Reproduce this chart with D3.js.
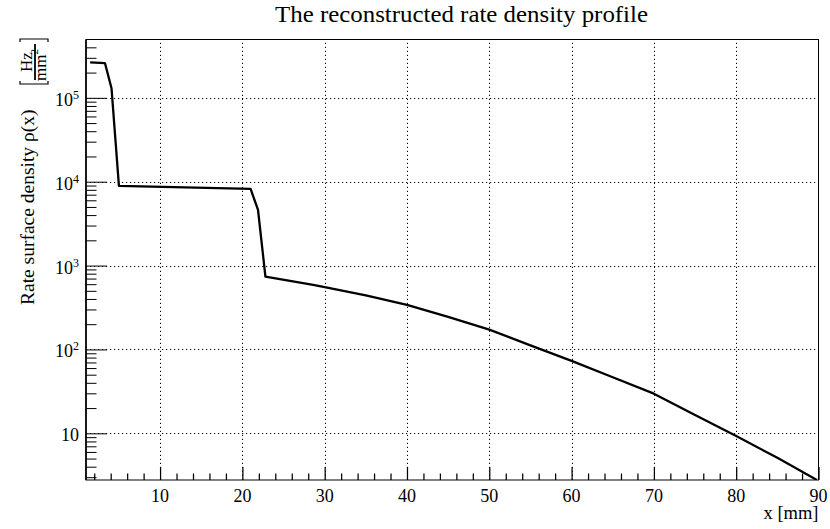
<!DOCTYPE html>
<html>
<head>
<meta charset="utf-8">
<script src="https://cdn.jsdelivr.net/npm/d3@7"></script>
<style>
  body { margin: 0; background: #fff; }
  svg { display: block; }
  text { font-family: "Liberation Serif", "Times New Roman", serif; fill: #000; }
</style>
</head>
<body>
<svg id="chart" width="830" height="529"></svg>
<script>
// Reconstructed rate surface density along x
const xPositions  = [1.5, 3.3, 4.1, 5.0, 21.0, 21.9, 22.8, 28.6, 30, 35, 40, 45, 50, 55, 60, 65, 70, 75, 80, 85, 89.8];
const rateDensity = [2.65e5, 2.6e5, 1.3e5, 8.9e3, 8.2e3, 4.6e3, 740, 590, 553, 440, 340, 245, 172, 112, 73, 46.6, 29.7, 16.5, 9.3, 5.1, 2.78];

const xTickValues = [10, 20, 30, 40, 50, 60, 70, 80, 90];
const xMinorTicks = [2, 4, 6, 8, 12, 14, 16, 18, 22, 24, 26, 28, 32, 34, 36, 38, 42, 44, 46, 48,
                     52, 54, 56, 58, 62, 64, 66, 68, 72, 74, 76, 78, 82, 84, 86, 88];
const yTickExponents = [1, 2, 3, 4, 5];
const yMinorMultipliers = [2, 3, 4, 5, 6, 7, 8, 9];

const titleText = "The reconstructed rate density profile";
const xAxisTitle = "x [mm]";
const yAxisTitle = "Rate surface density \u03C1(x)";
const unitNumerator = "Hz";
const unitDenominator = "mm";
const unitPower = "2";

const W = 830, H = 529;
const margin = { top: 39.5, right: 11.5, bottom: 49, left: 86 };

const svg = d3.select("#chart");

const x = d3.scaleLinear().domain([1, 90]).range([margin.left, W - margin.right]);
const y = d3.scaleLog().domain([2.776, 4.96e5]).range([H - margin.bottom, margin.top]);
const x0 = x.range()[0], x1 = x.range()[1];
const y0 = y.range()[0], y1 = y.range()[1];

// clip for the curve
svg.append("defs").append("clipPath").attr("id", "frameClip")
  .append("rect").attr("x", x0).attr("y", y1).attr("width", x1 - x0).attr("height", y0 - y1);

// dotted grid
const grid = svg.append("g").attr("stroke", "#000").attr("stroke-width", 1)
  .attr("stroke-dasharray", "1.2,2.8");
grid.selectAll("line.gx").data(xTickValues.filter(v => v < 90)).join("line")
  .attr("class", "gx")
  .attr("x1", d => Math.round(x(d)) + 0.5).attr("x2", d => Math.round(x(d)) + 0.5)
  .attr("y1", y0).attr("y2", y1);
const decades = yTickExponents.map(e => Math.pow(10, e));
grid.selectAll("line.gy").data(decades).join("line")
  .attr("class", "gy")
  .attr("x1", x0).attr("x2", x1)
  .attr("y1", d => Math.round(y(d)) + 0.5).attr("y2", d => Math.round(y(d)) + 0.5);

// x axis ticks (pointing into the frame)
const xAxisG = svg.append("g").attr("transform", `translate(0,${y0})`)
  .call(d3.axisBottom(x).tickValues(xTickValues).tickSizeInner(-13).tickSizeOuter(0).tickFormat(""));
xAxisG.select(".domain").remove();
xAxisG.selectAll(".tick line").attr("stroke", "#000").attr("stroke-width", 1.25);
const xMinorG = svg.append("g").attr("transform", `translate(0,${y0})`)
  .call(d3.axisBottom(x).tickValues(xMinorTicks).tickSizeInner(-6.5).tickSizeOuter(0).tickFormat(""));
xMinorG.select(".domain").remove();
xMinorG.selectAll(".tick line").attr("stroke", "#000").attr("stroke-width", 1.25);

// y axis ticks
const yMinorValues = [];
for (let e = 0; e <= 5; e++) {
  yMinorMultipliers.forEach(m => {
    const v = m * Math.pow(10, e);
    if (v >= y.domain()[0] && v <= y.domain()[1]) yMinorValues.push(v);
  });
}
const yAxisG = svg.append("g").attr("transform", `translate(${x0},0)`)
  .call(d3.axisLeft(y).tickValues(decades).tickSizeInner(-21).tickSizeOuter(0).tickFormat(""));
yAxisG.select(".domain").remove();
yAxisG.selectAll(".tick line").attr("stroke", "#000").attr("stroke-width", 1);
const yMinorG = svg.append("g").attr("transform", `translate(${x0},0)`)
  .call(d3.axisLeft(y).tickValues(yMinorValues).tickSizeInner(-10.5).tickSizeOuter(0).tickFormat(""));
yMinorG.select(".domain").remove();
yMinorG.selectAll(".tick line").attr("stroke", "#000").attr("stroke-width", 1);

// frame
svg.append("rect").attr("x", x0).attr("y", y1).attr("width", x1 - x0).attr("height", y0 - y1)
  .attr("fill", "none").attr("stroke", "#000").attr("stroke-width", 1);
svg.append("line").attr("x1", x0).attr("x2", x0).attr("y1", y1).attr("y2", y0)
  .attr("stroke", "#000").attr("stroke-width", 1.6);

// curve
const line = d3.line().x((d, i) => x(xPositions[i])).y(d => y(d));
svg.append("path").datum(rateDensity)
  .attr("clip-path", "url(#frameClip)")
  .attr("d", line)
  .attr("fill", "none").attr("stroke", "#000").attr("stroke-width", 2.3)
  .attr("stroke-linejoin", "round");

// x tick labels
svg.append("g").selectAll("text").data(xTickValues).join("text")
  .attr("x", d => x(d)).attr("y", 502)
  .attr("text-anchor", "middle").attr("font-size", 18)
  .text(d => d);

// y tick labels (powers of ten)
const yLab = svg.append("g").selectAll("text").data(yTickExponents).join("text")
  .attr("x", 79).attr("y", e => y(Math.pow(10, e)) + 8)
  .attr("text-anchor", "end").attr("font-size", 18);
yLab.append("tspan").text("10");
yLab.filter(e => e > 1).append("tspan").attr("font-size", 12).attr("dy", -7).text(e => e);

// axis titles
svg.append("text")
  .attr("x", x1).attr("y", 519)
  .attr("text-anchor", "end").attr("font-size", 18.5)
  .text(xAxisTitle);

const yTitle = svg.append("g").attr("transform", "rotate(-90)");
yTitle.append("text").attr("x", -305).attr("y", 33.5).attr("font-size", 19.5).text(yAxisTitle);
// unit fraction inside brackets
const fracMid = -62;
yTitle.append("text").attr("x", fracMid).attr("y", 32).attr("text-anchor", "middle")
  .attr("font-size", 17).text(unitNumerator);
const den = yTitle.append("text").attr("x", fracMid - 3).attr("y", 45.5).attr("text-anchor", "middle")
  .attr("font-size", 17);
den.append("tspan").text(unitDenominator);
den.append("tspan").attr("font-size", 11).attr("dy", -7.5).text(unitPower);
yTitle.append("line").attr("x1", fracMid - 18).attr("x2", fracMid + 18).attr("y1", 35).attr("y2", 35)
  .attr("stroke", "#000").attr("stroke-width", 1.8);
const br = yTitle.append("g").attr("fill", "none").attr("stroke", "#000").attr("stroke-width", 1.2);
br.append("path").attr("d", `M${fracMid - 19},20 L${fracMid - 22},20 L${fracMid - 22},48 L${fracMid - 19},48`);
br.append("path").attr("d", `M${fracMid + 20},20 L${fracMid + 23},20 L${fracMid + 23},48 L${fracMid + 20},48`);

// title
svg.append("text")
  .attr("x", 275).attr("y", 22).attr("font-size", 24)
  .attr("textLength", 373).attr("lengthAdjust", "spacingAndGlyphs")
  .text(titleText);
</script>
</body>
</html>
